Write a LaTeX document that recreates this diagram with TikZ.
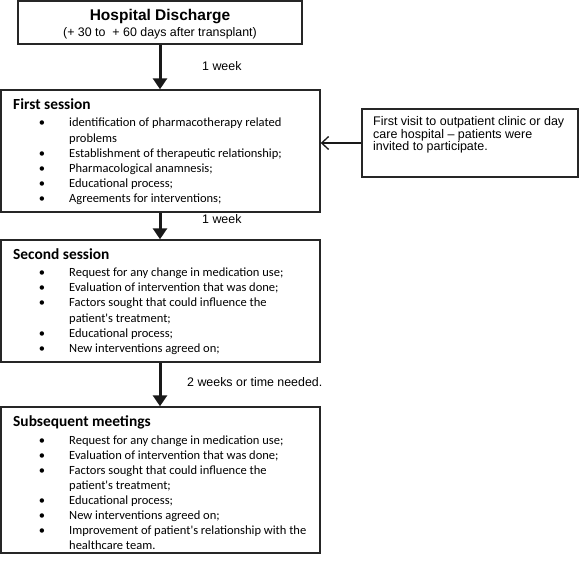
\documentclass[tikz,border=0pt]{standalone}
\usepackage{fontspec}
\usetikzlibrary{arrows.meta}
\newfontfamily\calfont{Carlito}
\newfontfamily\arialfont{Liberation Sans}
\begin{document}
\begin{tikzpicture}[x=1pt,y=-1pt,
  box/.style={draw=black!85, line width=1.4pt, inner sep=0pt, rectangle},
  bigarrow/.style={draw=black!90, line width=3pt, -{Triangle[width=14pt,length=11pt]}},
  thinarrow/.style={draw=black!90, line width=1.3pt, -{Straight Barb[length=7pt,width=13pt]}},
  lbl/.style={font=\arialfont\fontsize{12.4}{14}\selectfont, anchor=base west, inner sep=0pt},
  vis/.style={font=\arialfont\fontsize{12.5}{12}\selectfont, anchor=base west, inner sep=0pt},
  ttl/.style={font=\calfont\bfseries\fontsize{15.4}{18}\selectfont, anchor=base west, inner sep=0pt},
  itm/.style={font=\calfont\fontsize{12.5}{15}\selectfont, anchor=base west, inner sep=0pt},
  bul/.style={font=\calfont\fontsize{12.5}{15}\selectfont, anchor=base, inner sep=0pt},
]
\useasboundingbox (0,0) rectangle (579,561);

% boxes
\node[box, minimum width=284pt, minimum height=43pt] (hd) at (160,22.5) {};
\node[box, minimum width=319pt, minimum height=122pt] (s1) at (160.5,151) {};
\node[box, minimum width=319pt, minimum height=122pt] (s2) at (160.5,301) {};
\node[box, minimum width=319pt, minimum height=146pt] (s3) at (160.5,480) {};
\node[box, minimum width=216pt, minimum height=68pt] (visit) at (470,143) {};

% hospital discharge text
\node[font=\arialfont\bfseries\fontsize{15.5}{18}\selectfont, anchor=base, inner sep=0pt] (hdt) at (160,21) {Hospital Discharge};
\node[font=\arialfont\fontsize{12.4}{14}\selectfont, anchor=base, inner sep=0pt] (hds) at (160,36.5) {(+ 30 to\ \ + 60 days after transplant)};

% arrows
\draw[bigarrow] (hd.south) -- (hd.south |- s1.north);
\draw[bigarrow] (hd.south |- s1.south) -- (hd.south |- s2.north);
\draw[bigarrow] (hd.south |- s2.south) -- (hd.south |- s3.north);
\draw[thinarrow] (visit.west) -- (visit.west -| s1.east);

% arrow labels
\node[lbl] (w1) at (202,71) {1 week};
\node[lbl] (w2) at (202,224) {1 week};
\node[lbl] (w3) at (187,387) {2 weeks or time needed.};

% visit box text
\node[vis] (v1) at (373,126) {First visit to outpatient clinic or day};
\node[vis] (v2) at (373,138.5) {care hospital – patients were};
\node[vis] (v3) at (373,151) {invited to participate.};

% first session
\node[ttl] (s1t) at (13,109.5) {First session};
\node[bul] (s1b1) at (42,127) {\textbullet};
\node[itm] (s1i1) at (69,127) {identification of pharmacotherapy related};
\node[itm] (s1i1b) at (69,142.2) {problems};
\node[bul] (s1b2) at (42,157.4) {\textbullet};
\node[itm] (s1i2) at (69,157.4) {Establishment of therapeutic relationship;};
\node[bul] (s1b3) at (42,172.6) {\textbullet};
\node[itm] (s1i3) at (69,172.6) {Pharmacological anamnesis;};
\node[bul] (s1b4) at (42,187.8) {\textbullet};
\node[itm] (s1i4) at (69,187.8) {Educational process;};
\node[bul] (s1b5) at (42,203) {\textbullet};
\node[itm] (s1i5) at (69,203) {Agreements for interventions;};

% second session
\node[ttl] (s2t) at (13,259.5) {Second session};
\node[bul] (s2b1) at (42,276.5) {\textbullet};
\node[itm] (s2i1) at (69,276.5) {Request for any change in medication use;};
\node[bul] (s2b2) at (42,291.7) {\textbullet};
\node[itm] (s2i2) at (69,291.7) {Evaluation of intervention that was done;};
\node[bul] (s2b3) at (42,306.9) {\textbullet};
\node[itm] (s2i3) at (69,306.9) {Factors sought that could influence the};
\node[itm] (s2i3b) at (69,322.1) {patient's treatment;};
\node[bul] (s2b4) at (42,337.3) {\textbullet};
\node[itm] (s2i4) at (69,337.3) {Educational process;};
\node[bul] (s2b5) at (42,352.5) {\textbullet};
\node[itm] (s2i5) at (69,352.5) {New interventions agreed on;};

% subsequent meetings
\node[ttl] (s3t) at (13,426.5) {Subsequent meetings};
\node[bul] (s3b1) at (42,445) {\textbullet};
\node[itm] (s3i1) at (69,445) {Request for any change in medication use;};
\node[bul] (s3b2) at (42,460) {\textbullet};
\node[itm] (s3i2) at (69,460) {Evaluation of intervention that was done;};
\node[bul] (s3b3) at (42,475) {\textbullet};
\node[itm] (s3i3) at (69,475) {Factors sought that could influence the};
\node[itm] (s3i3b) at (69,490) {patient's treatment;};
\node[bul] (s3b4) at (42,505) {\textbullet};
\node[itm] (s3i4) at (69,505) {Educational process;};
\node[bul] (s3b5) at (42,520) {\textbullet};
\node[itm] (s3i5) at (69,520) {New interventions agreed on;};
\node[bul] (s3b6) at (42,535) {\textbullet};
\node[itm] (s3i6) at (69,535) {Improvement of patient's relationship with the};
\node[itm] (s3i6b) at (69,550) {healthcare team.};
\end{tikzpicture}
\end{document}
